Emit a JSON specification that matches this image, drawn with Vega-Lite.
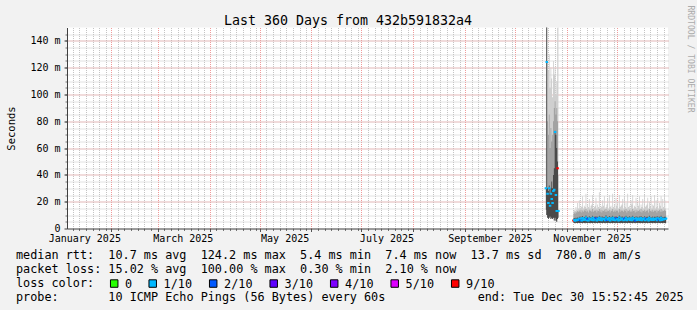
{
"$schema": "https://vega.github.io/schema/vega-lite/v6.json",
"width": 601, "height": 201,
"autosize": {"type": "none"},
"padding": {"left": 67, "top": 27.5, "right": 29, "bottom": 81.5},
"background": "#f2f2f2",
"config": {"view": {"fill": "white", "stroke": null}, "font": "DejaVu Sans Mono"},
"title": {"text": "Last 360 Days from 432b591832a4", "font": "DejaVu Sans Mono", "fontSize": 13.3, "fontWeight": "normal", "color": "#000000", "anchor": "middle", "frame": "group", "dx": -19.5, "dy": 37.2, "offset": 4, "baseline": "alphabetic"},
"data": {"values": [
{"s":1,"t":"2025-10-19T12:00","lo":14,"h1":30,"h2":60,"hi":110,"m":30,"l":"1/10"},
{"s":1,"t":"2025-10-20T00:00","lo":10,"h1":250,"h2":250,"hi":250,"m":124.2,"l":"1/10"},
{"s":1,"t":"2025-10-20T12:00","lo":8,"h1":30,"h2":80,"hi":125,"m":26,"l":"1/10"},
{"s":1,"t":"2025-10-21T00:00","lo":7,"h1":28,"h2":70,"hi":118,"m":19,"l":"1/10"},
{"s":1,"t":"2025-10-21T12:00","lo":8,"h1":32,"h2":85,"hi":130,"m":30,"l":"1/10"},
{"s":1,"t":"2025-10-22T00:00","lo":9,"h1":26,"h2":60,"hi":105,"m":17,"l":"1/10"},
{"s":1,"t":"2025-10-22T12:00","lo":7,"h1":30,"h2":75,"hi":120,"m":26,"l":"1/10"},
{"s":1,"t":"2025-10-23T00:00","lo":8,"h1":35,"h2":65,"hi":112,"m":22,"l":"1/10"},
{"s":1,"t":"2025-10-23T12:00","lo":7,"h1":30,"h2":70,"hi":98,"m":19,"l":"1/10"},
{"s":1,"t":"2025-10-24T00:00","lo":8,"h1":40,"h2":80,"hi":125,"m":28,"l":"1/10"},
{"s":1,"t":"2025-10-24T12:00","lo":6,"h1":45,"h2":90,"hi":115,"m":29,"l":"1/10"},
{"s":1,"t":"2025-10-25T00:00","lo":8,"h1":73,"h2":95,"hi":120,"m":72,"l":"1/10"},
{"s":1,"t":"2025-10-25T12:00","lo":6,"h1":70,"h2":85,"hi":100,"m":25,"l":"1/10"},
{"s":1,"t":"2025-10-26T00:00","lo":5,"h1":60,"h2":90,"hi":110,"m":13,"l":"1/10"},
{"s":1,"t":"2025-10-26T12:00","lo":7,"h1":50,"h2":80,"hi":150,"m":45,"l":"9/10"},
{"s":1,"t":"2025-10-27T00:00","lo":8,"h1":14,"h2":40,"hi":250,"m":13,"l":"1/10"},
{"s":2,"t":"2025-11-05T00:00","lo":4.2,"h1":7.5,"h2":11,"hi":13,"m":6.0,"l":"9/10"},
{"s":2,"t":"2025-11-05T12:00","lo":4.1,"h1":7.8,"h2":12,"hi":14,"m":6.3,"l":"1/10"},
{"s":2,"t":"2025-11-06T00:00","lo":4.0,"h1":7.3,"h2":11,"hi":13,"m":5.8,"l":"1/10"},
{"s":2,"t":"2025-11-06T12:00","lo":4.2,"h1":8.0,"h2":12.5,"hi":16,"m":6.5,"l":"1/10"},
{"s":2,"t":"2025-11-07T00:00","lo":4.1,"h1":7.6,"h2":12,"hi":14,"m":6.1,"l":"1/10"},
{"s":2,"t":"2025-11-07T12:00","lo":4.0,"h1":8.3,"h2":13,"hi":19,"m":6.8,"l":"1/10"},
{"s":2,"t":"2025-11-08T00:00","lo":4.2,"h1":7.9,"h2":12.5,"hi":15,"m":6.4,"l":"1/10"},
{"s":2,"t":"2025-11-08T12:00","lo":4.1,"h1":8.7,"h2":13.5,"hi":21,"m":7.2,"l":"1/10"},
{"s":2,"t":"2025-11-09T00:00","lo":4.0,"h1":7.7,"h2":12.5,"hi":15,"m":6.2,"l":"2/10"},
{"s":2,"t":"2025-11-09T12:00","lo":4.2,"h1":9.0,"h2":14,"hi":17,"m":7.5,"l":"1/10"},
{"s":2,"t":"2025-11-10T00:00","lo":4.1,"h1":7.5,"h2":12,"hi":16,"m":6.0,"l":"1/10"},
{"s":2,"t":"2025-11-10T12:00","lo":4.0,"h1":9.3,"h2":13.5,"hi":24,"m":7.8,"l":"1/10"},
{"s":2,"t":"2025-11-11T00:00","lo":4.3,"h1":7.8,"h2":12.5,"hi":15,"m":6.3,"l":"1/10"},
{"s":2,"t":"2025-11-11T12:00","lo":4.1,"h1":8.5,"h2":14,"hi":17,"m":7.0,"l":"1/10"},
{"s":2,"t":"2025-11-12T00:00","lo":4.0,"h1":8.1,"h2":13,"hi":16,"m":6.6,"l":"1/10"},
{"s":2,"t":"2025-11-12T12:00","lo":4.2,"h1":9.7,"h2":14.5,"hi":26,"m":8.2,"l":"1/10"},
{"s":2,"t":"2025-11-13T00:00","lo":4.1,"h1":7.6,"h2":12.5,"hi":15,"m":6.1,"l":"1/10"},
{"s":2,"t":"2025-11-13T12:00","lo":4.0,"h1":8.6,"h2":13.5,"hi":18,"m":7.1,"l":"2/10"},
{"s":2,"t":"2025-11-14T00:00","lo":4.2,"h1":7.5,"h2":12,"hi":16,"m":6.0,"l":"1/10"},
{"s":2,"t":"2025-11-14T12:00","lo":4.1,"h1":9.1,"h2":14,"hi":22,"m":7.6,"l":"1/10"},
{"s":2,"t":"2025-11-15T00:00","lo":4.0,"h1":8.3,"h2":13,"hi":15,"m":6.8,"l":"1/10"},
{"s":2,"t":"2025-11-15T12:00","lo":4.3,"h1":8.5,"h2":13.5,"hi":17,"m":7.0,"l":"1/10"},
{"s":2,"t":"2025-11-16T00:00","lo":4.1,"h1":7.9,"h2":12.5,"hi":18,"m":6.4,"l":"1/10"},
{"s":2,"t":"2025-11-16T12:00","lo":4.0,"h1":9.5,"h2":14.5,"hi":25,"m":8.0,"l":"1/10"},
{"s":2,"t":"2025-11-17T00:00","lo":4.2,"h1":7.7,"h2":12.5,"hi":15,"m":6.2,"l":"1/10"},
{"s":2,"t":"2025-11-17T12:00","lo":4.1,"h1":8.8,"h2":13.5,"hi":16,"m":7.3,"l":"1/10"},
{"s":2,"t":"2025-11-18T00:00","lo":4.0,"h1":8.2,"h2":13,"hi":17,"m":6.7,"l":"1/10"},
{"s":2,"t":"2025-11-18T12:00","lo":4.2,"h1":9.2,"h2":14,"hi":23,"m":7.7,"l":"2/10"},
{"s":2,"t":"2025-11-19T00:00","lo":4.1,"h1":7.5,"h2":12,"hi":15,"m":6.0,"l":"1/10"},
{"s":2,"t":"2025-11-19T12:00","lo":4.0,"h1":8.7,"h2":13.5,"hi":18,"m":7.2,"l":"1/10"},
{"s":2,"t":"2025-11-20T00:00","lo":4.3,"h1":8.1,"h2":13,"hi":16,"m":6.6,"l":"1/10"},
{"s":2,"t":"2025-11-20T12:00","lo":4.1,"h1":9.6,"h2":14.5,"hi":27,"m":8.1,"l":"1/10"},
{"s":2,"t":"2025-11-21T00:00","lo":4.0,"h1":7.8,"h2":12.5,"hi":15,"m":6.3,"l":"1/10"},
{"s":2,"t":"2025-11-21T12:00","lo":4.2,"h1":8.9,"h2":14,"hi":17,"m":7.4,"l":"1/10"},
{"s":2,"t":"2025-11-22T00:00","lo":4.1,"h1":7.6,"h2":12,"hi":16,"m":6.1,"l":"1/10"},
{"s":2,"t":"2025-11-22T12:00","lo":4.0,"h1":9.0,"h2":13.5,"hi":21,"m":7.5,"l":"1/10"},
{"s":2,"t":"2025-11-23T00:00","lo":4.2,"h1":8.4,"h2":13,"hi":17,"m":6.9,"l":"1/10"},
{"s":2,"t":"2025-11-23T12:00","lo":4.1,"h1":8.6,"h2":14,"hi":24,"m":7.1,"l":"1/10"},
{"s":2,"t":"2025-11-24T00:00","lo":4.0,"h1":7.7,"h2":12.5,"hi":15,"m":6.2,"l":"1/10"},
{"s":2,"t":"2025-11-24T12:00","lo":4.3,"h1":9.8,"h2":14.5,"hi":16,"m":8.3,"l":"1/10"},
{"s":2,"t":"2025-11-25T00:00","lo":4.1,"h1":7.9,"h2":12.5,"hi":18,"m":6.4,"l":"2/10"},
{"s":2,"t":"2025-11-25T12:00","lo":4.0,"h1":8.5,"h2":13.5,"hi":22,"m":7.0,"l":"1/10"},
{"s":2,"t":"2025-11-26T00:00","lo":4.2,"h1":8.1,"h2":13,"hi":15,"m":6.6,"l":"1/10"},
{"s":2,"t":"2025-11-26T12:00","lo":4.1,"h1":9.3,"h2":14,"hi":25,"m":7.8,"l":"1/10"},
{"s":2,"t":"2025-11-27T00:00","lo":4.0,"h1":7.5,"h2":12,"hi":16,"m":6.0,"l":"1/10"},
{"s":2,"t":"2025-11-27T12:00","lo":4.2,"h1":8.7,"h2":13.5,"hi":17,"m":7.2,"l":"1/10"},
{"s":2,"t":"2025-11-28T00:00","lo":4.1,"h1":8.3,"h2":13,"hi":15,"m":6.8,"l":"1/10"},
{"s":2,"t":"2025-11-28T12:00","lo":4.0,"h1":9.5,"h2":14.5,"hi":26,"m":8.0,"l":"1/10"},
{"s":2,"t":"2025-11-29T00:00","lo":4.3,"h1":7.8,"h2":12.5,"hi":16,"m":6.3,"l":"1/10"},
{"s":2,"t":"2025-11-29T12:00","lo":4.1,"h1":8.8,"h2":13.5,"hi":18,"m":7.3,"l":"1/10"},
{"s":2,"t":"2025-11-30T00:00","lo":4.0,"h1":7.6,"h2":12.5,"hi":15,"m":6.1,"l":"1/10"},
{"s":2,"t":"2025-11-30T12:00","lo":4.2,"h1":9.1,"h2":14,"hi":23,"m":7.6,"l":"2/10"},
{"s":2,"t":"2025-12-01T00:00","lo":4.1,"h1":8.2,"h2":13,"hi":17,"m":6.7,"l":"1/10"},
{"s":2,"t":"2025-12-01T12:00","lo":4.0,"h1":8.6,"h2":13.5,"hi":20,"m":7.1,"l":"1/10"},
{"s":2,"t":"2025-12-02T00:00","lo":4.2,"h1":7.5,"h2":12,"hi":15,"m":6.0,"l":"1/10"},
{"s":2,"t":"2025-12-02T12:00","lo":4.1,"h1":9.7,"h2":14.5,"hi":25,"m":8.2,"l":"1/10"},
{"s":2,"t":"2025-12-03T00:00","lo":4.0,"h1":7.9,"h2":12.5,"hi":16,"m":6.4,"l":"1/10"},
{"s":2,"t":"2025-12-03T12:00","lo":4.3,"h1":8.9,"h2":14,"hi":17,"m":7.4,"l":"1/10"},
{"s":2,"t":"2025-12-04T00:00","lo":4.1,"h1":8.3,"h2":13,"hi":18,"m":6.8,"l":"1/10"},
{"s":2,"t":"2025-12-04T12:00","lo":4.0,"h1":9.0,"h2":13.5,"hi":22,"m":7.5,"l":"1/10"},
{"s":2,"t":"2025-12-05T00:00","lo":4.2,"h1":7.7,"h2":12.5,"hi":15,"m":6.2,"l":"1/10"},
{"s":2,"t":"2025-12-05T12:00","lo":4.1,"h1":8.7,"h2":14,"hi":24,"m":7.2,"l":"2/10"},
{"s":2,"t":"2025-12-06T00:00","lo":4.0,"h1":8.1,"h2":13,"hi":16,"m":6.6,"l":"1/10"},
{"s":2,"t":"2025-12-06T12:00","lo":4.2,"h1":9.5,"h2":14.5,"hi":19,"m":8.0,"l":"1/10"},
{"s":2,"t":"2025-12-07T00:00","lo":4.1,"h1":7.6,"h2":12,"hi":15,"m":6.1,"l":"1/10"},
{"s":2,"t":"2025-12-07T12:00","lo":4.0,"h1":8.5,"h2":13.5,"hi":26,"m":7.0,"l":"1/10"},
{"s":2,"t":"2025-12-08T00:00","lo":4.3,"h1":8.2,"h2":13,"hi":16,"m":6.7,"l":"1/10"},
{"s":2,"t":"2025-12-08T12:00","lo":4.1,"h1":9.1,"h2":14,"hi":17,"m":7.6,"l":"1/10"},
{"s":2,"t":"2025-12-09T00:00","lo":4.0,"h1":7.8,"h2":12.5,"hi":15,"m":6.3,"l":"1/10"},
{"s":2,"t":"2025-12-09T12:00","lo":4.2,"h1":8.8,"h2":13.5,"hi":21,"m":7.3,"l":"1/10"},
{"s":2,"t":"2025-12-10T00:00","lo":4.1,"h1":7.7,"h2":12.5,"hi":18,"m":6.2,"l":"1/10"},
{"s":2,"t":"2025-12-10T12:00","lo":4.0,"h1":9.6,"h2":14.5,"hi":25,"m":8.1,"l":"1/10"},
{"s":2,"t":"2025-12-11T00:00","lo":4.2,"h1":8.3,"h2":13,"hi":15,"m":6.8,"l":"1/10"},
{"s":2,"t":"2025-12-11T12:00","lo":4.1,"h1":8.6,"h2":13.5,"hi":17,"m":7.1,"l":"1/10"},
{"s":2,"t":"2025-12-12T00:00","lo":4.0,"h1":7.5,"h2":12,"hi":16,"m":6.0,"l":"2/10"},
{"s":2,"t":"2025-12-12T12:00","lo":4.3,"h1":9.2,"h2":14,"hi":23,"m":7.7,"l":"1/10"},
{"s":2,"t":"2025-12-13T00:00","lo":4.1,"h1":7.9,"h2":12.5,"hi":15,"m":6.4,"l":"1/10"},
{"s":2,"t":"2025-12-13T12:00","lo":4.0,"h1":8.7,"h2":13.5,"hi":19,"m":7.2,"l":"1/10"},
{"s":2,"t":"2025-12-14T00:00","lo":4.2,"h1":8.1,"h2":13,"hi":17,"m":6.6,"l":"1/10"},
{"s":2,"t":"2025-12-14T12:00","lo":4.1,"h1":8.9,"h2":14,"hi":24,"m":7.4,"l":"1/10"},
{"s":2,"t":"2025-12-15T00:00","lo":4.0,"h1":7.8,"h2":12.5,"hi":15,"m":6.3,"l":"1/10"},
{"s":2,"t":"2025-12-15T12:00","lo":4.2,"h1":9.4,"h2":14.5,"hi":18,"m":7.9,"l":"1/10"},
{"s":2,"t":"2025-12-16T00:00","lo":4.1,"h1":7.6,"h2":12,"hi":16,"m":6.1,"l":"1/10"},
{"s":2,"t":"2025-12-16T12:00","lo":4.0,"h1":8.5,"h2":13.5,"hi":22,"m":7.0,"l":"1/10"},
{"s":2,"t":"2025-12-17T00:00","lo":4.3,"h1":8.2,"h2":13,"hi":15,"m":6.7,"l":"1/10"},
{"s":2,"t":"2025-12-17T12:00","lo":4.1,"h1":9.1,"h2":14,"hi":25,"m":7.6,"l":"1/10"},
{"s":2,"t":"2025-12-18T00:00","lo":4.0,"h1":7.7,"h2":12.5,"hi":16,"m":6.2,"l":"1/10"},
{"s":2,"t":"2025-12-18T12:00","lo":4.2,"h1":8.7,"h2":13.5,"hi":17,"m":7.2,"l":"2/10"},
{"s":2,"t":"2025-12-19T00:00","lo":4.1,"h1":8.3,"h2":13,"hi":18,"m":6.8,"l":"1/10"},
{"s":2,"t":"2025-12-19T12:00","lo":4.0,"h1":8.8,"h2":14,"hi":23,"m":7.3,"l":"1/10"},
{"s":2,"t":"2025-12-20T00:00","lo":4.2,"h1":7.5,"h2":12,"hi":15,"m":6.0,"l":"1/10"},
{"s":2,"t":"2025-12-20T12:00","lo":4.1,"h1":9.5,"h2":14.5,"hi":20,"m":8.0,"l":"1/10"},
{"s":2,"t":"2025-12-21T00:00","lo":4.0,"h1":8.1,"h2":13,"hi":16,"m":6.6,"l":"1/10"},
{"s":2,"t":"2025-12-21T12:00","lo":4.2,"h1":8.6,"h2":13.5,"hi":24,"m":7.1,"l":"1/10"},
{"s":2,"t":"2025-12-22T00:00","lo":4.1,"h1":7.9,"h2":12.5,"hi":15,"m":6.4,"l":"1/10"},
{"s":2,"t":"2025-12-22T12:00","lo":4.0,"h1":9.0,"h2":14,"hi":18,"m":7.5,"l":"1/10"},
{"s":2,"t":"2025-12-23T00:00","lo":4.3,"h1":7.8,"h2":12.5,"hi":17,"m":6.3,"l":"1/10"},
{"s":2,"t":"2025-12-23T12:00","lo":4.1,"h1":8.7,"h2":13.5,"hi":25,"m":7.2,"l":"1/10"},
{"s":2,"t":"2025-12-24T00:00","lo":4.0,"h1":8.4,"h2":13,"hi":15,"m":6.9,"l":"1/10"},
{"s":2,"t":"2025-12-24T12:00","lo":4.2,"h1":8.9,"h2":14,"hi":21,"m":7.4,"l":"1/10"},
{"s":2,"t":"2025-12-25T00:00","lo":4.1,"h1":7.6,"h2":12,"hi":16,"m":6.1,"l":"1/10"},
{"s":2,"t":"2025-12-25T12:00","lo":4.0,"h1":9.1,"h2":13.5,"hi":23,"m":7.6,"l":"1/10"},
{"s":2,"t":"2025-12-26T00:00","lo":4.2,"h1":8.2,"h2":13,"hi":15,"m":6.7,"l":"2/10"},
{"s":2,"t":"2025-12-26T12:00","lo":4.1,"h1":8.8,"h2":14,"hi":19,"m":7.3,"l":"1/10"},
{"s":2,"t":"2025-12-27T00:00","lo":4.0,"h1":7.7,"h2":12.5,"hi":17,"m":6.2,"l":"1/10"},
{"s":2,"t":"2025-12-27T12:00","lo":4.2,"h1":9.6,"h2":14.5,"hi":24,"m":8.1,"l":"1/10"},
{"s":2,"t":"2025-12-28T00:00","lo":4.1,"h1":7.9,"h2":12.5,"hi":15,"m":6.4,"l":"1/10"},
{"s":2,"t":"2025-12-28T12:00","lo":4.0,"h1":8.5,"h2":13.5,"hi":22,"m":7.0,"l":"1/10"},
{"s":2,"t":"2025-12-29T00:00","lo":4.3,"h1":8.3,"h2":13,"hi":16,"m":6.8,"l":"1/10"},
{"s":2,"t":"2025-12-29T12:00","lo":4.1,"h1":8.7,"h2":14,"hi":25,"m":7.2,"l":"1/10"},
{"s":2,"t":"2025-12-30T00:00","lo":4.0,"h1":8.5,"h2":13,"hi":15,"m":7.0,"l":"1/10"},
{"s":2,"t":"2025-12-30T12:00","lo":4.1,"h1":8.9,"h2":13.5,"hi":21,"m":7.4,"l":"1/10"}
]},
"layer": [
{"mark": {"type": "area", "interpolate": "step", "color": "#cfcfcf", "opacity": 1, "clip": true},
 "encoding": {
  "x": {"field": "t", "type": "temporal", "scale": {"domain": [{"year": 2025, "month": 1, "date": 5, "hours": 15, "minutes": 20}, {"year": 2025, "month": 12, "date": 31, "hours": 15, "minutes": 20}]},
        "axis": {"orient": "bottom", "tickCount": {"interval": "day", "step": 4}, "grid": true, "gridColor": "#c4c4c4", "gridDash": [1, 1], "gridWidth": 1, "labels": false, "domain": false, "ticks": true, "tickSize": 2, "tickColor": "#777777", "title": null}},
  "y": {"field": "lo", "type": "quantitative", "scale": {"domain": [0, 150], "nice": false, "zero": true},
        "axis": {"orient": "left", "values": [5,10,15,20,25,30,35,40,45,50,55,60,65,70,75,80,85,90,95,100,105,110,115,120,125,130,135,140,145], "grid": true, "gridColor": "#c4c4c4", "gridDash": [1, 1], "gridWidth": 1, "labels": false, "domain": false, "ticks": true, "tickSize": 2, "tickColor": "#777777", "title": null}},
  "y2": {"field": "hi"},
  "detail": {"field": "s"}
 }},
{"mark": {"type": "area", "interpolate": "step", "color": "#a3a3a3", "opacity": 1, "clip": true},
 "encoding": {
  "x": {"field": "t", "type": "temporal", "scale": {"domain": [{"year": 2025, "month": 1, "date": 5, "hours": 15, "minutes": 20}, {"year": 2025, "month": 12, "date": 31, "hours": 15, "minutes": 20}]},
        "axis": {"orient": "bottom", "tickCount": {"interval": "month", "step": 1}, "grid": true, "gridColor": "#f09a9a", "gridDash": [1, 1], "gridWidth": 1, "labels": false, "domain": false, "ticks": true, "tickSize": 3, "tickColor": "#555555", "title": null}},
  "y": {"field": "lo", "type": "quantitative", "scale": {"domain": [0, 150], "nice": false, "zero": true},
        "axis": {"orient": "left", "values": [20,40,60,80,100,120,140], "grid": true, "gridColor": "#f09a9a", "gridDash": [1, 1], "gridWidth": 1, "labels": false, "domain": false, "ticks": false, "title": null}},
  "y2": {"field": "h2"},
  "detail": {"field": "s"}
 }},
{"mark": {"type": "area", "interpolate": "step", "color": "#4a4a4a", "opacity": 1, "clip": true},
 "encoding": {
  "x": {"field": "t", "type": "temporal", "scale": {"domain": [{"year": 2025, "month": 1, "date": 5, "hours": 15, "minutes": 20}, {"year": 2025, "month": 12, "date": 31, "hours": 15, "minutes": 20}]},
        "axis": {"orient": "bottom",
                 "values": [{"year": 2025, "month": 1, "date": 16}, {"year": 2025, "month": 3, "date": 16}, {"year": 2025, "month": 5, "date": 16}, {"year": 2025, "month": 7, "date": 16}, {"year": 2025, "month": 9, "date": 16}, {"year": 2025, "month": 11, "date": 16}],
                 "format": "%B %Y", "grid": false, "ticks": false, "tickSize": 0, "labelPadding": 13, "labelBaseline": "alphabetic",
                 "labelFont": "DejaVu Sans Mono", "labelFontSize": 10, "labelColor": "#000000", "labelOverlap": false, "labelFlush": false, "labelBound": false,
                 "domain": true, "domainColor": "#404040", "domainWidth": 1,
                 "title": ["median rtt:\u00a0\u00a010.7 ms avg\u00a0\u00a0124.2 ms max\u00a0\u00a05.4 ms min\u00a0\u00a07.4 ms now\u00a0\u00a013.7 ms sd\u00a0\u00a0780.0 m am/s", "packet loss:\u00a015.02 % avg\u00a0\u00a0100.00 % max\u00a0\u00a00.30 % min\u00a0\u00a02.10 % now", "loss color:", "probe:\u00a0\u00a0\u00a0\u00a0\u00a0\u00a0\u00a010 ICMP Echo Pings (56 Bytes) every 60s\u00a0\u00a0\u00a0\u00a0\u00a0\u00a0\u00a0\u00a0\u00a0\u00a0\u00a0\u00a0\u00a0end: Tue Dec 30 15:52:45 2025"],
                 "titleFont": "DejaVu Sans Mono", "titleFontSize": 11.8, "titleFontWeight": "normal", "titleColor": "#000000", "titleAlign": "left", "titleAnchor": "start", "titleBaseline": "alphabetic", "titleLineHeight": 13.9, "titleX": -51.5, "titleY": 30.3}},
  "y": {"field": "lo", "type": "quantitative", "scale": {"domain": [0, 150], "nice": false, "zero": true},
        "axis": {"orient": "left", "values": [0,20,40,60,80,100,120,140], "labelExpr": "datum.value == 0 ? '0\u00a0\u00a0' : datum.value + ' m'", "grid": false,
                 "ticks": true, "tickSize": 3, "tickColor": "#404040", "labelPadding": 4, "labelFont": "DejaVu Sans Mono", "labelFontSize": 10, "labelColor": "#000000", "labelBaseline": "middle",
                 "domain": true, "domainColor": "#404040", "domainWidth": 1,
                 "title": "Seconds", "titleFont": "DejaVu Sans Mono", "titleFontSize": 10.5, "titleFontWeight": "normal", "titleColor": "#000000", "titleAngle": -90, "titleX": -56, "titleY": 100.5, "titleAlign": "center", "titleBaseline": "middle"}},
  "y2": {"field": "h1"},
  "detail": {"field": "s"}
 }},
{"mark": {"type": "tick", "orient": "horizontal", "size": 2.5, "thickness": 2, "opacity": 1, "clip": true},
 "encoding": {
  "x": {"field": "t", "type": "temporal", "scale": {"domain": [{"year": 2025, "month": 1, "date": 5, "hours": 15, "minutes": 20}, {"year": 2025, "month": 12, "date": 31, "hours": 15, "minutes": 20}]}, "axis": null},
  "y": {"field": "m", "type": "quantitative", "scale": {"domain": [0, 150], "nice": false, "zero": true},
        "axis": {"orient": "right", "labels": false, "ticks": false, "domain": false, "grid": false,
                 "title": "RRDTOOL / TOBI OETIKER", "titleAngle": 90, "titleX": 21, "titleY": 31, "titleFont": "DejaVu Sans Mono", "titleFontSize": 8.1, "titleFontWeight": "normal", "titleColor": "#ababab", "titleAlign": "center", "titleBaseline": "middle"}},
  "color": {"field": "l", "type": "nominal",
            "scale": {"domain": ["0", "1/10", "2/10", "3/10", "4/10", "5/10", "9/10"], "range": ["#26ff00", "#00b8ff", "#0059ff", "#5e00ff", "#7e00ff", "#dd00ff", "#ff0000"]},
            "legend": {"orient": "none", "legendX": 41.3, "legendY": 250, "direction": "horizontal", "title": null, "symbolType": "square", "symbolSize": 56, "symbolStrokeWidth": 1, "symbolStrokeColor": "#000000", "symbolOpacity": 1,
                       "labelFont": "DejaVu Sans Mono", "labelFontSize": 11.8, "labelColor": "#000000", "labelOffset": 5, "columnPadding": 14.5, "padding": 0,
                       "encode": {"symbols": {"update": {"fill": {"scale": "color", "field": "value"}, "stroke": {"value": "#000000"}, "opacity": {"value": 1}}}}}}
 }}
],
"resolve": {"axis": {"x": "independent", "y": "independent"}}
}
